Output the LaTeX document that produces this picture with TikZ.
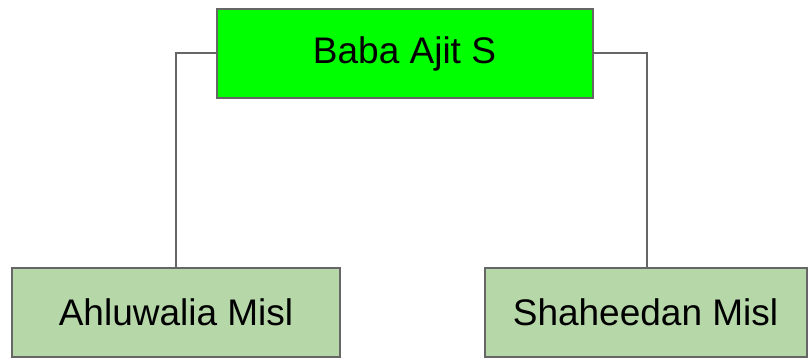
\documentclass[tikz,border=0pt]{standalone}
\usepackage{fontspec}
\setmainfont{Liberation Sans}
\definecolor{topgreen}{HTML}{00FF00}
\definecolor{leafgreen}{HTML}{B6D7A8}
\definecolor{edgegray}{HTML}{666666}
\begin{document}
\begin{tikzpicture}[x=1pt,y=-1pt,
  box/.style={draw=edgegray,line width=2pt,inner sep=0pt,font=\fontsize{37}{44}\selectfont},
  link/.style={draw=edgegray,line width=2pt}]
\useasboundingbox (0,0) rectangle (808,361);
\node[box,fill=topgreen,minimum width=376pt,minimum height=89pt] (top) at (404.5,53.5) {Baba Ajit S};
\node[box,fill=leafgreen,minimum width=328pt,minimum height=89pt] (left) at (176,312.5) {Ahluwalia Misl};
\node[box,fill=leafgreen,minimum width=322pt,minimum height=89pt] (right) at (645.5,312.5) {Shaheedan Misl};
\draw[link] (top.west) -| (left.north);
\draw[link] (top.east) -| ([xshift=1.5pt]right.north);
\end{tikzpicture}
\end{document}
